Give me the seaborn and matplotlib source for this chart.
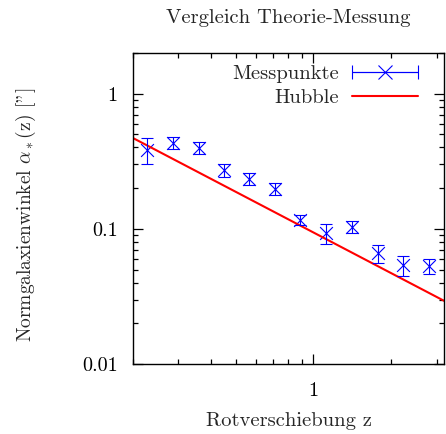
import numpy as np
import matplotlib
matplotlib.use("Agg")
import matplotlib.pyplot as plt
from matplotlib.ticker import FuncFormatter, NullFormatter, LogLocator
from matplotlib.legend_handler import HandlerErrorbar
import seaborn as sns

# measured points (redshift, angle in arcsec, error)
z_mess = [0.226, 0.285, 0.359, 0.450, 0.565, 0.710, 0.888, 1.12, 1.41, 1.77, 2.22, 2.79]
alpha_mess = [0.386, 0.432, 0.399, 0.272, 0.234, 0.198, 0.117, 0.093, 0.103, 0.0663, 0.054, 0.0534]
alpha_err = [0.084, 0.044, 0.040, 0.030, 0.024, 0.019, 0.010, 0.016, 0.0105, 0.010, 0.0088, 0.007]

# Hubble curve, read at the plot edges
z_hubble = [0.2, 3.2]
alpha_hubble = [0.47, 0.0294]

x_ticks = [1]
y_ticks = [0.01, 0.1, 1]

sns.set_theme(style="ticks")
plt.rcParams["font.family"] = ["cmr10", "DejaVu Serif"]
plt.rcParams["mathtext.fontset"] = "cm"
plt.rcParams["axes.formatter.use_mathtext"] = True

blue = "#0000ff"
red = "#ff0000"
fs = 14.8

fig, ax = plt.subplots(figsize=(4.46, 4.34), dpi=100)
fig.subplots_adjust(left=0.298, right=0.9955, top=0.878, bottom=0.161)

sns.lineplot(x=z_hubble, y=alpha_hubble, ax=ax, color=red, linewidth=1.5, legend=False)
ax.errorbar(z_mess, alpha_mess, yerr=alpha_err, fmt="none", ecolor=blue,
            elinewidth=0.8, capsize=4.5, capthick=0.8)
sns.scatterplot(x=z_mess, y=alpha_mess, ax=ax, marker="x", s=85, color=blue,
                linewidth=0.8, legend=False)

ax.set_xscale("log")
ax.set_yscale("log")
ax.set_xlim(0.2, 3.2)
ax.set_ylim(0.01, 2)

fmt = FuncFormatter(lambda v, pos: f"{v:g}")
ax.xaxis.set_major_locator(LogLocator(base=10))
ax.xaxis.set_major_formatter(fmt)
ax.xaxis.set_minor_formatter(NullFormatter())
ax.yaxis.set_major_formatter(fmt)
ax.yaxis.set_minor_formatter(NullFormatter())
ax.set_xticks(x_ticks)
ax.set_yticks(y_ticks)

ax.tick_params(which="both", direction="in", top=True, right=True, colors="black",
               width=0.9)
ax.tick_params(which="major", length=7, labelsize=14.5)
ax.tick_params(axis="x", which="major", pad=13)
ax.tick_params(axis="y", which="major", pad=11)
ax.tick_params(which="minor", length=3.5)
for sp in ax.spines.values():
    sp.set_linewidth(1.0)
    sp.set_color("black")
    sp.set_visible(True)

ax.set_title("Vergleich Theorie-Messung", fontsize=fs, pad=21.5)
ax.set_xlabel("Rotverschiebung z", fontsize=fs)
ax.set_ylabel('Normgalaxienwinkel $\\alpha_*$(z) ["]', fontsize=14)
ax.xaxis.set_label_coords(0.5, -0.154)
ax.yaxis.set_label_coords(-0.305, 0.48)

# legend proxy, gnuplot style: bar with caps and cross
proxy = ax.errorbar([np.nan], [np.nan], xerr=[1.0], fmt="-x", color=blue, ecolor=blue,
                    linewidth=0.8, elinewidth=0.8, markersize=9.5, markeredgewidth=0.8,
                    capsize=5, capthick=0.8, label="Messpunkte")
hub = plt.Line2D([], [], color=red, linewidth=1.5, label="Hubble")
ax.legend(handles=[proxy, hub], loc="upper right", bbox_to_anchor=(0.916, 0.961),
          frameon=False, markerfirst=False, fontsize=fs, handlelength=3.2,
          handletextpad=0.65, borderpad=0, borderaxespad=0, labelspacing=0.25,
          alignment="right",
          handler_map={type(proxy): HandlerErrorbar(xerr_size=1.6)})

fig.savefig("out.png", dpi=100)
